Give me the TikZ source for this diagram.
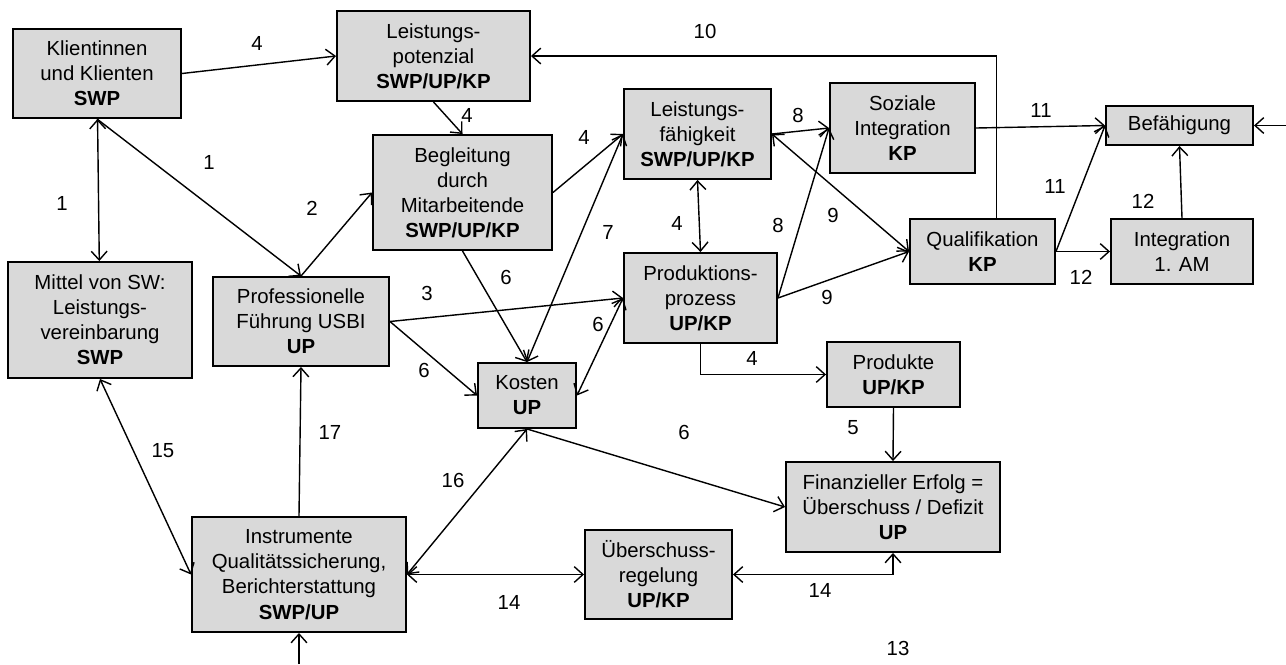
\documentclass[tikz,border=0pt]{standalone}
\usepackage{fontspec}
\setmainfont{Liberation Sans}
\usetikzlibrary{arrows.meta,positioning,calc}
\definecolor{boxgray}{RGB}{217,217,217}

\begin{document}
\begin{tikzpicture}[x=0.02cm, y=-0.02cm, ->, >={Straight Barb[length=5pt,width=9pt]},
	line width=0.8pt, font=\fontsize{11.6}{14.3}\selectfont,
	box/.style 2 args={draw=black, line width=1.1pt, fill=boxgray, align=center, inner sep=1pt,
		minimum width=#1*0.02cm, minimum height=#2*0.02cm},
	num/.style={inner sep=0pt}]
	
	% frame of the picture (pixel units)
	\useasboundingbox (0,0) rectangle (1286,664);
	
	% boxes
	\node[box={168}{89}]  (klient)      at (97,73.5)     {Klientinnen\\und Klienten\\\textbf{SWP}};
	\node[box={193}{90}]  (potenzial)   at (433.5,56)    {Leistungs-\\potenzial\\\textbf{SWP/UP/KP}};
	\node[box={179}{115}] (begleitung)  at (462.5,192.5) {Begleitung\\durch\\Mitarbeitende\\\textbf{SWP/UP/KP}};
	\node[box={184}{116}] (mittel)      at (100,320)     {Mittel von SW:\\Leistungs-\\vereinbarung\\\textbf{SWP}};
	\node[box={176}{89}]  (fuehrung)    at (301,321.5)   {Professionelle\\Führung USBI\\\textbf{UP}};
	\node[box={147}{90}]  (faehigkeit)  at (697.5,134)   {Leistungs-\\fähigkeit\\\textbf{SWP/UP/KP}};
	\node[box={153}{90}]  (prozess)     at (700.5,298)   {Produktions-\\prozess\\\textbf{UP/KP}};
	\node[box={145}{90}]  (sozial)      at (902.5,128)   {Soziale\\Integration\\\textbf{KP}};
	\node[box={147}{39}]  (befaehigung) at (1179.5,125.5) {Befähigung};
	\node[box={145}{65}]  (quali)       at (982.5,251.5) {Qualifikation\\\textbf{KP}};
	\node[box={142}{65}]  (integration) at (1182,251.5)  {Integration\\1. AM};
	\node[box={98}{65}]   (kosten)      at (527,395.5)   {Kosten\\\textbf{UP}};
	\node[box={133}{65}]  (produkte)    at (893.5,374.5) {Produkte\\\textbf{UP/KP}};
	\node[box={214}{90}]  (erfolg)      at (893,507)     {Finanzieller Erfolg =\\Überschuss / Defizit\\\textbf{UP}};
	\node[box={147}{89}]  (regelung)    at (658.5,574.5) {Überschuss-\\regelung\\\textbf{UP/KP}};
	\node[box={214}{115}] (instrumente) at (299,574.5)   {Instrumente\\Qualitätssicherung,\\Berichterstattung\\\textbf{SWP/UP}};
	
	% loose ends at the border
	\coordinate (rand-rechts) at (1286,125.5);
	\coordinate (rand-unten)  at (299,664);
	
	% connections
	\path (klient) edge[<->] (mittel);
	\path (klient.east) edge (potenzial.west);
	\path (klient.south) edge (fuehrung.north);
	\path (fuehrung.north) edge (begleitung.west);
	\path (potenzial.south) edge (begleitung.north);
	\path (begleitung.east) edge (faehigkeit.west);
	\path (kosten.north) edge[<->] (faehigkeit.west);
	\path (begleitung.south) edge (kosten.north);
	\path (fuehrung.east) edge (prozess.west);
	\path (fuehrung.east) edge (kosten.west);
	\path (prozess.west) edge[<->] (kosten.east);
	\path (faehigkeit.south) edge[<->] (prozess.north);
	\path (faehigkeit.east) edge (sozial.west);
	\path (prozess.east) edge (sozial.west);
	\path (faehigkeit.east) edge[<->] (quali.west);
	\path (prozess.east) edge (quali.west);
	\draw ($(quali.north)+(14,0)$) |- (potenzial.east);
	\path (sozial.east) edge (befaehigung.west);
	\path (quali.east) edge (befaehigung.west);
	\path (quali.east) edge (integration.west);
	\path (integration.north) edge (befaehigung.south);
	\path (rand-rechts) edge (befaehigung.east);
	\draw (prozess.south) |- (produkte.west);
	\path (produkte.south) edge (erfolg.north);
	\path (kosten.south) edge (erfolg.west);
	\path (instrumente.east) edge[<->] (kosten.south);
	\path (instrumente.north) edge (fuehrung.south);
	\path (mittel.south) edge[<->] (instrumente.west);
	\path (instrumente.east) edge[<->] (regelung.west);
	\draw[<->] (regelung.east) -| (erfolg.south);
	\path (rand-unten) edge (instrumente.south);
	
	% numbers
	\node[num] (n1a)  at (257,43)  {4};
	\node[num] (n1b)  at (62,203)  {1};
	\node[num] (n1c)  at (209,162) {1};
	\node[num] (n2)   at (312,208) {2};
	\node[num] (n4a)  at (467,115) {4};
	\node[num] (n4b)  at (584,137) {4};
	\node[num] (n7)   at (608,232) {7};
	\node[num] (n6a)  at (506,277) {6};
	\node[num] (n3)   at (427,293) {3};
	\node[num] (n6b)  at (424,370) {6};
	\node[num] (n6c)  at (598,324) {6};
	\node[num] (n4c)  at (677,223) {4};
	\node[num] (n8a)  at (798,115) {8};
	\node[num] (n8b)  at (778,225) {8};
	\node[num] (n9a)  at (833,215) {9};
	\node[num] (n9b)  at (827,297) {9};
	\node[num] (n10)  at (705,31)  {10};
	\node[num] (n11a) at (1041,110) {11};
	\node[num] (n11b) at (1055,186) {11};
	\node[num] (n12a) at (1143,201) {12};
	\node[num] (n12b) at (1081,277) {12};
	\node[num] (n4d)  at (752,358) {4};
	\node[num] (n5)   at (853,428) {5};
	\node[num] (n6d)  at (684,432) {6};
	\node[num] (n16)  at (453,480) {16};
	\node[num] (n14a) at (509,602) {14};
	\node[num] (n14b) at (820,590) {14};
	\node[num] (n17)  at (330,432) {17};
	\node[num] (n15)  at (163,451) {15};
	\node[num] (n13)  at (898,648) {13};
	
\end{tikzpicture}
\end{document}
